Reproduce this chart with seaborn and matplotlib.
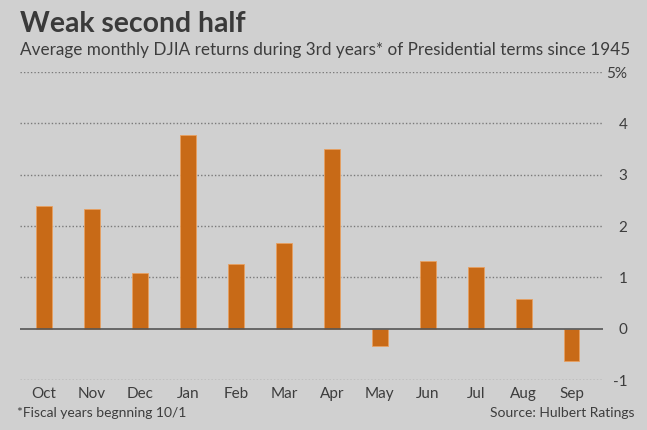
import matplotlib
matplotlib.use("Agg")
import matplotlib.pyplot as plt
import seaborn as sns
import pandas as pd

months = ["Oct", "Nov", "Dec", "Jan", "Feb", "Mar", "Apr", "May", "Jun", "Jul", "Aug", "Sep"]
returns = [2.39, 2.33, 1.09, 3.77, 1.26, 1.67, 3.50, -0.34, 1.32, 1.20, 0.58, -0.63]
ytick_vals = [-1, 0, 1, 2, 3, 4, 5]
ytick_labels = ["-1", "0", "1", "2", "3", "4", "5%"]

sns.set_style("white")
plt.rcParams["font.family"] = ["Lato", "DejaVu Sans"]

bg = "#d0d0d0"
bar_color = "#c86a17"
text_color = "#3d3d3d"

df = pd.DataFrame({"month": months, "ret": returns})

fig = plt.figure(figsize=(6.47, 4.30), dpi=100, facecolor=bg)
ax = fig.add_axes([20 / 647, 1 - 380 / 430, (603 - 20) / 647, (380 - 72) / 430])
ax.set_facecolor(bg)

sns.barplot(data=df, x="month", y="ret", color=bar_color, width=0.32,
            saturation=1, ax=ax, zorder=3, edgecolor="#e8a060", linewidth=0.6)

ax.set_ylim(-1, 5)
ax.set_xlim(-0.5, 11.65)
for v in ytick_vals:
    if v == 0:
        ax.axhline(v, color="#555555", lw=1.2, zorder=4)
    else:
        ax.axhline(v, color="#7a7a7a", lw=1.0, ls=(0, (1, 1.5)), zorder=1)

for s in ax.spines.values():
    s.set_visible(False)

ax.yaxis.tick_right()
ax.set_yticks(ytick_vals)
ax.set_yticklabels(ytick_labels)
ax.tick_params(axis="y", length=0, pad=17.5, labelsize=11, labelcolor=text_color)
for lbl in ax.get_yticklabels():
    lbl.set_horizontalalignment("right")
ax.tick_params(axis="x", length=0, pad=5, labelsize=11, labelcolor=text_color)
ax.set_xlabel("")
ax.set_ylabel("")

fig.text(20 / 647, 1 - 24 / 430, "Weak second half", fontsize=20.4, fontweight="bold",
         color="#3a3a3a", va="center", ha="left")
fig.text(20 / 647, 1 - 50 / 430,
         "Average monthly DJIA returns during 3rd years* of Presidential terms since 1945",
         fontsize=12.3, color=text_color, va="center", ha="left")
fig.text(17 / 647, 1 - 413 / 430, "*Fiscal years begnning 10/1", fontsize=10,
         color=text_color, va="center", ha="left")
fig.text(634 / 647, 1 - 413 / 430, "Source: Hulbert Ratings", fontsize=10,
         color=text_color, va="center", ha="right")

fig.savefig("out.png", dpi=100, facecolor=bg)
